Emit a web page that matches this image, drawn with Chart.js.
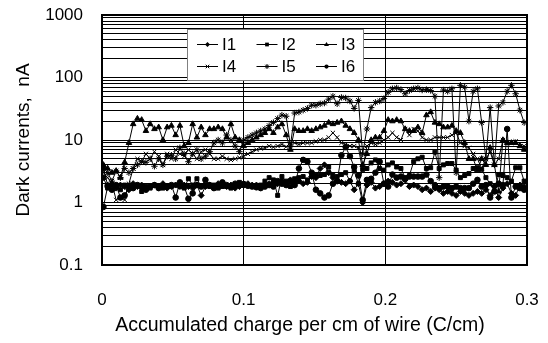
<!DOCTYPE html>
<html><head><meta charset="utf-8">
<script src="https://cdn.jsdelivr.net/npm/chart.js@4"></script>
<style>html,body{margin:0;padding:0;background:#fff}#wrap{width:548px;height:343px}</style>
</head><body><div id="wrap"><canvas id="c" width="548" height="343"></canvas></div>
<script>
const charge = [
 0.001,0.004,0.007,0.010,0.013,0.016,0.019,0.022,0.025,0.028,
 0.031,0.034,0.037,0.040,0.043,0.046,0.049,0.052,0.055,0.058,
 0.061,0.064,0.067,0.070,0.073,0.076,0.079,0.082,0.085,0.088,
 0.091,0.094,0.097,0.100,0.103,0.106,0.109,0.112,0.115,0.118,
 0.121,0.124,0.127,0.130,0.133,0.136,0.139,0.142,0.145,0.148,
 0.151,0.154,0.157,0.160,0.163,0.166,0.169,0.172,0.175,0.178,
 0.181,0.184,0.187,0.190,0.193,0.196,0.199,0.202,0.205,0.208,
 0.211,0.214,0.217,0.220,0.223,0.226,0.229,0.232,0.235,0.238,
 0.241,0.244,0.247,0.250,0.253,0.256,0.259,0.262,0.265,0.268,
 0.271,0.274,0.277,0.280,0.283,0.286,0.289,0.292,0.295,0.298];
const seriesNames = ['I1','I2','I3','I4','I5','I6'];
const I1 = [3.5,1.9,2.0,1.7,1.9,1.8,1.6,2.0,1.8,1.9,
 1.7,1.8,1.9,1.8,2.0,1.7,1.8,1.9,1.8,1.9,
 1.8,1.7,1.9,1.3,1.8,1.9,1.8,2.0,1.9,1.8,
 1.9,1.7,1.8,2.0,2.0,1.9,1.9,1.8,1.9,2.0,
 2.1,2.0,2.2,2.0,2.3,2.1,2.2,2.0,2.1,2.6,
 2.5,3.5,4.0,3.0,2.5,2.2,2.1,2.0,2.2,1.6,
 2.0,1.0,1.9,2.1,1.7,1.8,2.0,2.2,2.1,1.9,
 2.0,2.3,1.8,1.9,1.8,1.6,1.7,1.5,1.7,1.6,
 1.4,1.5,1.4,1.3,1.5,1.4,1.3,1.4,1.5,1.4,
 1.6,1.3,1.8,1.2,1.7,2.0,1.4,1.3,1.9,1.8];
const I2 = [2.5,1.7,1.9,1.8,1.6,1.9,1.7,1.8,1.9,1.5,
 1.8,1.7,1.9,1.8,1.7,1.8,1.8,1.9,1.8,1.7,
 2.4,1.9,2.4,1.8,1.9,1.8,1.9,1.7,1.8,1.8,
 1.7,1.9,2.1,2.0,1.9,1.8,1.8,1.9,2.2,2.5,
 2.3,1.3,2.6,2.2,1.8,2.4,2.5,2.6,2.3,2.6,
 2.7,2.7,2.8,3.7,2.7,2.6,2.8,3.0,2.2,3.2,
 2.0,3.4,3.5,4.3,4.8,3.5,3.3,4.0,4.3,3.7,
 3.5,2.5,2.7,4.5,5.0,5.3,3.5,3.6,6.4,3.5,
 4.0,4.2,4.2,3.3,2.5,2.7,2.9,3.5,3.6,3.4,
 2.5,2.0,1.5,2.8,2.7,2.5,2.2,3.6,3.6,2.2];
const I3 = [4,3.5,3,3.2,2.5,4.4,9,18,22,21,
 14,18,15,16,10,16,17,12,17,8,
 9,18,11,16,12,15,15,16,15,11,
 18,11,10,8,9,10,11,12,13,15,
 13,16,18,12,7,15,14,14,15,14,
 15,16,17,19,18,19,20,17,15,13,
 10,4,6,10,11,11,14,21,20,21,
 20,15,14,14,16,13,25,28,19,18,
 16,16,17,14,13,9,5,5,3.3,5,
 4,7.5,4,1.5,10,9,9,9,8,7];
const I4 = [3,2.5,2,1.1,1.2,1.1,2,3.5,5,4.5,
 6,5,6.5,5.5,4,6,5,7,6,5.5,
 7,6,5,6.5,7,6,5,5,5.5,5,
 4.8,5,5.2,5.5,6,6.5,7,7.3,7.5,8,
 7.7,8,8.5,7.8,9,9,8.5,9,9,9,
 9.5,10,10,11,13,11,9,8.5,8,8,
 7.5,3.3,8,9,8.5,9,10,11,13,11,
 10,15,12,15,14,11,10,10,11,11,
 11,11,12,13,9,8,7.5,6,5,3.5,
 5,6.5,4,5,10,9,9,9.5,8,8];
const I5 = [2.5,3,2.2,3.2,2.5,3.5,3,3.5,4,4.5,
 4.4,5,3.8,5,4,5.5,5.7,5,7.5,6,
 4.5,6,7,5,5.5,6.5,9,10,9,12,
 10,8,6.5,10,11,12,13,14,15,17,
 19,22,25,24,8,27,28,30,32,36,
 36,38,39,45,50,38,48,47,42,32,
 43,6,15,33,40,42,46,58,66,68,
 64,55,62,66,68,63,64,62,50,2.5,
 63,60,66,3,75,70,20,60,66,19,
 5,33,4,35,40,60,75,55,30,19];
const I6 = [0.85,1.8,1.6,1.9,1.2,1.3,1.8,1.7,1.9,1.8,
 1.6,1.8,1.9,1.7,1.8,1.8,1.9,1.2,2.1,1.8,
 1.15,1.4,1.9,1.8,2.3,1.9,1.7,1.8,2.1,1.9,
 1.8,2.0,1.9,1.9,1.85,1.8,1.75,1.7,1.8,1.9,
 1.8,2.2,2.0,1.9,2.2,1.9,3.5,4.8,4.5,3,
 1.6,1.4,1.2,1.3,2,2.2,5.7,7.7,5.5,3.7,
 2.7,1.1,2.3,2.4,3,4.5,2,1.8,2.8,2.5,
 2.6,2.4,2.6,2.6,2.6,2.6,2.8,2.2,1.9,1.7,
 1.8,1.8,1.7,1.8,1.7,1.7,1.7,2.0,2.3,1.8,
 1.9,1.2,1.5,2.0,1.9,15,1.2,1.8,1.7,1.6];
const xTickValues = [0, 0.1, 0.2, 0.3];
const xTickLabels = ['0', '0.1', '0.2', '0.3'];
const yTickLabels = [0.1, 1, 10, 100, 1000];
const yGridValues = [0.1,0.2,0.3,0.4,0.5,0.6,0.7,0.8,0.9,
 1,2,3,4,5,6,7,8,9,10,20,30,40,50,60,70,80,90,
 100,200,300,400,500,600,700,800,900,1000];
const xTitle = 'Accumulated charge per cm of wire (C/cm)';
const yTitle = 'Dark currents,  nA';

const allSeries = [I1, I2, I3, I4, I5, I6];
const markers = ['rectRot', 'rect', 'triangle', 'crossRot', 'star', 'circle'];
const radii = [3, 2.8, 3.2, 3, 3.2, 2.8];

const datasets = allSeries.map((vals, k) => ({
  label: seriesNames[k],
  data: vals.map((v, i) => ({x: charge[i], y: v})),
  borderColor: '#000',
  borderWidth: 1,
  backgroundColor: '#000',
  pointStyle: markers[k],
  pointRadius: radii[k],
  pointBackgroundColor: '#000',
  pointBorderColor: '#000',
  pointBorderWidth: 1,
  tension: 0,
  fill: false
}));

const FONT = '"Liberation Sans", Arial, sans-serif';

function drawMarker(ctx, style, r, x, y) {
  ctx.save();
  ctx.fillStyle = '#000'; ctx.strokeStyle = '#000'; ctx.lineWidth = 1;
  ctx.beginPath();
  if (style === 'rectRot') {
    ctx.moveTo(x, y - r); ctx.lineTo(x + r, y); ctx.lineTo(x, y + r); ctx.lineTo(x - r, y); ctx.closePath(); ctx.fill();
  } else if (style === 'rect') {
    ctx.rect(x - r * 0.75, y - r * 0.75, r * 1.5, r * 1.5); ctx.fill();
  } else if (style === 'triangle') {
    ctx.moveTo(x, y - r); ctx.lineTo(x + r, y + r * 0.6); ctx.lineTo(x - r, y + r * 0.6); ctx.closePath(); ctx.fill();
  } else if (style === 'crossRot') {
    const d = r * 0.7;
    ctx.moveTo(x - d, y - d); ctx.lineTo(x + d, y + d); ctx.moveTo(x + d, y - d); ctx.lineTo(x - d, y + d); ctx.stroke();
  } else if (style === 'star') {
    const d = r * 0.7;
    ctx.moveTo(x - d, y - d); ctx.lineTo(x + d, y + d); ctx.moveTo(x + d, y - d); ctx.lineTo(x - d, y + d);
    ctx.moveTo(x, y - r); ctx.lineTo(x, y + r); ctx.stroke();
  } else {
    ctx.arc(x, y, r * 0.85, 0, Math.PI * 2); ctx.fill();
  }
  ctx.restore();
}

const framePlugin = {
  id: 'frameAndLegend',
  afterDraw(chart) {
    const ctx = chart.ctx, ca = chart.chartArea;
    ctx.save();
    ctx.strokeStyle = '#000'; ctx.lineWidth = 2;
    ctx.strokeRect(ca.left, ca.top, ca.right - ca.left, ca.bottom - ca.top);
    // x axis title (offset left of plot centre as in the original)
    ctx.fillStyle = '#000';
    ctx.font = '19.5px ' + FONT;
    ctx.textAlign = 'center'; ctx.textBaseline = 'middle';
    ctx.fillText(xTitle, ca.left + 198, ca.bottom + 61);
    // legend box
    const bx = ca.left + 85, by = ca.top + 14, bw = 176, bh = 51;
    ctx.fillStyle = '#fff';
    ctx.fillRect(bx, by, bw, bh);
    ctx.strokeStyle = '#808080'; ctx.lineWidth = 1;
    ctx.strokeRect(bx + 0.5, by + 0.5, bw, bh);
    ctx.font = '17px ' + FONT;
    ctx.textBaseline = 'middle'; ctx.textAlign = 'left';
    chart.data.datasets.forEach((ds, k) => {
      const col = k % 3, row = Math.floor(k / 3);
      const lx = bx + 10 + col * 59.5, ly = by + 15.5 + row * 22;
      ctx.strokeStyle = '#000'; ctx.lineWidth = 1;
      ctx.beginPath(); ctx.moveTo(lx, ly); ctx.lineTo(lx + 21, ly); ctx.stroke();
      drawMarker(ctx, ds.pointStyle, 2.5, lx + 10.5, ly);
      ctx.fillStyle = '#000';
      ctx.fillText(ds.label, lx + 25, ly + 1);
    });
    ctx.restore();
  }
};

new Chart(document.getElementById('c'), {
  type: 'line',
  data: { datasets },
  plugins: [framePlugin],
  options: {
    responsive: false,
    animation: false,
    devicePixelRatio: 1,
    layout: { padding: { left: 0, right: 21, top: 15, bottom: 0 } },
    plugins: { legend: { display: false }, tooltip: { enabled: false } },
    scales: {
      x: {
        type: 'linear', min: 0, max: 0.3,
        afterBuildTicks: s => { s.ticks = xTickValues.map(v => ({ value: v })); },
        afterFit: s => { s.height = 78; s.paddingLeft = 0; s.paddingRight = 0; },
        ticks: { autoSkip: false, maxRotation: 0, padding: 25, color: '#000',
          font: { family: FONT, size: 17 },
          callback: (v, i) => xTickLabels[i] },
        grid: { color: '#000', lineWidth: 1, drawTicks: false },
        border: { display: false },
        title: { display: false }
      },
      y: {
        type: 'logarithmic', min: 0.1, max: 1000,
        afterBuildTicks: s => { s.ticks = yGridValues.map(v => ({ value: v })); },
        afterFit: s => { s.width = 102; s.paddingTop = 0; s.paddingBottom = 0; },
        ticks: { autoSkip: false, padding: 19, color: '#000',
          font: { family: FONT, size: 17 },
          callback: v => (yTickLabels.includes(v) ? String(v) : '') },
        grid: { color: '#000', lineWidth: 1, drawTicks: false },
        border: { display: false },
        title: { display: true, text: yTitle, color: '#000',
          font: { family: FONT, size: 19 }, padding: { top: 12, bottom: 0 } }
      }
    }
  }
});
</script>
</body></html>
